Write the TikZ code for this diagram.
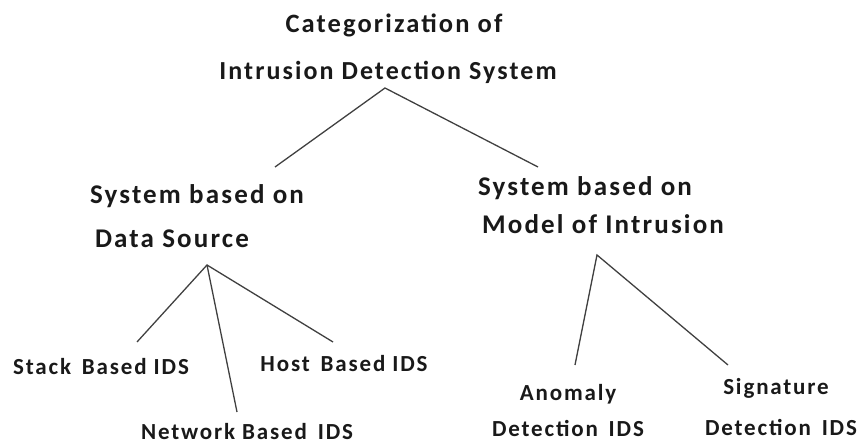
\documentclass[tikz,border=0pt]{standalone}
\usepackage{fontspec}
\setmainfont{Carlito}[LetterSpace=8]
\begin{document}
\begin{tikzpicture}[x=1pt,y=-1pt,
  lbl/.style={font=\bfseries\fontsize{#1}{#1}\selectfont, inner sep=0pt, anchor=base, text=black!90},
  lbl/.default=24,
  branch/.style={draw=black!75, line width=1.3pt}]
\useasboundingbox (0,0) rectangle (861,443);
% headings
\node[lbl=26.5] (t1) at (394,33) {Categorization of};
\node[lbl=26] (t2) at (388,80) {Intrusion Detection System};
\node[lbl=27] (ds1) at (197,204) {System based on};
\node[lbl=27] (ds2) at (172,248) {Data Source};
\node[lbl=27] (mi1) at (585,196) {System based on};
\node[lbl=27] (mi2) at (603,234) {Model of Intrusion};
% leaves
\node[lbl=23] (stack) at (101,374) {Stack\, Based IDS};
\node[lbl=23] (host) at (344,371) {Host\, Based IDS};
\node[lbl=23] (net) at (247,439) {Network Based\, IDS};
\node[lbl=23] (an1) at (568,400) {Anomaly};
\node[lbl=23] (an2) at (568,436) {Detection\, IDS};
\node[lbl=23] (sg1) at (776,394) {Signature};
\node[lbl=23] (sg2) at (781,435) {Detection\, IDS};
% branch points
\coordinate (rootA) at (385,88);
\coordinate (dsIn) at (275,167);
\coordinate (miIn) at (538,167);
\coordinate (dsA) at (207,265);
\coordinate (stackIn) at (137,342);
\coordinate (netIn) at (237,412);
\coordinate (hostIn) at (333,342);
\coordinate (miA) at (597,255);
\coordinate (anIn) at (575,365);
\coordinate (sgIn) at (728,365);
\draw[branch] (dsIn) -- (rootA) -- (miIn);
\draw[branch] (stackIn) -- (dsA) -- (hostIn);
\draw[branch] (dsA) -- (netIn);
\draw[branch] (anIn) -- (miA) -- (sgIn);
\end{tikzpicture}
\end{document}
